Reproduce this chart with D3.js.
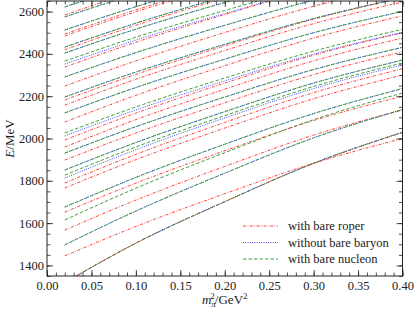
<!DOCTYPE html>
<html>
<head>
<meta charset="utf-8">
<script src="https://cdn.jsdelivr.net/npm/d3@7"></script>
<style>
body { margin: 0; background: #fff; }
svg { display: block; }
</style>
</head>
<body>
<div id="chart"></div>
<script>
// m_pi^2 sample points (GeV^2)
var mpi2 = [0.02, 0.10, 0.20, 0.30, 0.40];

// energy levels (MeV) at each m_pi^2 sample, one row per level
var roperLevels = [
    [1320, 1506, 1702, 1882, 2028],
    [1445, 1584, 1739, 1883, 2000],
    [1567, 1709, 1868, 2016, 2135],
    [1652, 1789, 1942, 2085, 2200],
    [1766, 1900, 2049, 2188, 2300],
    [1790, 1925, 2076, 2217, 2330],
    [1898, 2026, 2169, 2302, 2410],
    [1960, 2089, 2233, 2367, 2475],
    [1993, 2120, 2262, 2394, 2500],
    [2078, 2204, 2344, 2475, 2580],
    [2158, 2280, 2416, 2543, 2645],
    [2182, 2303, 2438, 2564, 2665],
    [2248, 2367, 2501, 2625, 2725],
    [2338, 2455, 2586, 2707, 2805],
    [2420, 2535, 2664, 2783, 2880],
    [2485, 2599, 2726, 2844, 2940],
    [2494, 2608, 2735, 2853, 2949],
    [2584, 2696, 2820, 2936, 3030]
];

var noBareLevels = [
    [1318, 1505, 1701, 1883, 2030],
    [1497, 1657, 1836, 2003, 2137],
    [1676, 1816, 1973, 2118, 2236],
    [1813, 1947, 2097, 2236, 2348],
    [1851, 1981, 2127, 2262, 2371],
    [1931, 2056, 2196, 2326, 2431],
    [2012, 2135, 2272, 2399, 2502],
    [2121, 2241, 2375, 2500, 2601],
    [2196, 2314, 2445, 2567, 2666],
    [2291, 2406, 2535, 2654, 2751],
    [2352, 2465, 2591, 2708, 2802],
    [2404, 2517, 2643, 2760, 2854],
    [2432, 2545, 2671, 2788, 2882],
    [2513, 2623, 2746, 2861, 2953],
    [2575, 2683, 2803, 2915, 3005],
    [2622, 2730, 2850, 2962, 3052]
];

var bareNucleonLevels = [
    [1318, 1505, 1701, 1883, 2030],
    [1497, 1657, 1836, 2003, 2137],
    [1615, 1765, 1933, 2089, 2215],
    [1676, 1816, 1973, 2118, 2236],
    [1827, 1960, 2108, 2246, 2357],
    [1851, 1981, 2127, 2262, 2371],
    [1931, 2056, 2196, 2326, 2431],
    [2026, 2149, 2286, 2413, 2516],
    [2121, 2241, 2375, 2500, 2601],
    [2196, 2314, 2445, 2567, 2666],
    [2291, 2406, 2535, 2654, 2751],
    [2366, 2479, 2605, 2722, 2816],
    [2404, 2517, 2643, 2760, 2854],
    [2432, 2545, 2671, 2788, 2882],
    [2513, 2623, 2746, 2861, 2953],
    [2575, 2683, 2803, 2915, 3005],
    [2622, 2730, 2850, 2962, 3052]
];

var xTicks = [0.00, 0.05, 0.10, 0.15, 0.20, 0.25, 0.30, 0.35, 0.40];
var yTicks = [1400, 1600, 1800, 2000, 2200, 2400, 2600];
var seriesNames = ["with bare roper", "without bare baryon", "with bare nucleon"];

var series = [
    {name: seriesNames[0], levels: roperLevels, color: "#ff2a2a", dash: "3,1.5,0.8,1.5"},
    {name: seriesNames[1], levels: noBareLevels, color: "#1f1fff", dash: "0.9,1.4"},
    {name: seriesNames[2], levels: bareNucleonLevels, color: "#2a962a", dash: "3.5,2"}
];

var SERIF = "'Liberation Serif'";
var TEXT_COLOR = "#222";

var W = 415, H = 310;
var margin = {top: 1, right: 12.5, bottom: 34, left: 47};
var width = W - margin.left - margin.right;
var height = H - margin.top - margin.bottom;

var svg = d3.select("#chart").append("svg")
    .attr("width", W)
    .attr("height", H);

var g = svg.append("g")
    .attr("transform", "translate(" + margin.left + "," + margin.top + ")");

var xScale = d3.scaleLinear().domain([0, 0.40]).range([0, width]);
var yScale = d3.scaleLinear().domain([1350, 2650]).range([height, 0]);

g.append("clipPath").attr("id", "plotClip")
    .append("rect").attr("width", width).attr("height", height);

var line = d3.line()
    .x(function(d, i) { return xScale(mpi2[i]); })
    .y(function(d) { return yScale(d); })
    .curve(d3.curveMonotoneX);

var plot = g.append("g").attr("clip-path", "url(#plotClip)");

series.forEach(function(s) {
    plot.selectAll(null)
        .data(s.levels)
        .enter()
        .append("path")
        .attr("d", line)
        .style("fill", "none")
        .style("stroke", s.color)
        .style("stroke-width", 0.9)
        .style("stroke-dasharray", s.dash);
});

// ticks on all four sides, pointing inward
var xMinor = d3.range(0, 0.4001, 0.01);
var yMinor = d3.range(1350, 2651, 50);

function styleAxis(sel) {
    sel.attr("font-family", null).attr("font-size", null);
    sel.select(".domain").remove();
    sel.selectAll(".tick line").style("stroke", TEXT_COLOR).style("stroke-width", 0.8);
    sel.selectAll(".tick text")
        .style("font-family", SERIF)
        .style("font-size", "12.5px")
        .style("fill", TEXT_COLOR);
}

g.append("g").attr("transform", "translate(0," + height + ")")
    .call(d3.axisBottom(xScale).tickValues(xTicks).tickSize(-6).tickPadding(5).tickFormat(d3.format(".2f")))
    .call(styleAxis);
g.append("g").attr("transform", "translate(0," + height + ")")
    .call(d3.axisBottom(xScale).tickValues(xMinor).tickSize(-3.5).tickFormat(""))
    .call(styleAxis);
g.append("g")
    .call(d3.axisTop(xScale).tickValues(xTicks).tickSize(-6).tickFormat(""))
    .call(styleAxis);
g.append("g")
    .call(d3.axisTop(xScale).tickValues(xMinor).tickSize(-3.5).tickFormat(""))
    .call(styleAxis);

g.append("g")
    .call(d3.axisLeft(yScale).tickValues(yTicks).tickSize(-6).tickPadding(3).tickFormat(d3.format("d")))
    .call(styleAxis);
g.append("g")
    .call(d3.axisLeft(yScale).tickValues(yMinor).tickSize(-3.5).tickFormat(""))
    .call(styleAxis);
g.append("g").attr("transform", "translate(" + width + ",0)")
    .call(d3.axisRight(yScale).tickValues(yTicks).tickSize(-6).tickFormat(""))
    .call(styleAxis);
g.append("g").attr("transform", "translate(" + width + ",0)")
    .call(d3.axisRight(yScale).tickValues(yMinor).tickSize(-3.5).tickFormat(""))
    .call(styleAxis);

g.append("rect")
    .attr("width", width)
    .attr("height", height)
    .style("fill", "none")
    .style("stroke", TEXT_COLOR)
    .style("stroke-width", 1);

// axis labels
var xLab = svg.append("text")
    .attr("x", margin.left + width / 2)
    .attr("y", 304)
    .attr("text-anchor", "middle")
    .style("font-family", SERIF)
    .style("fill", TEXT_COLOR)
    .style("font-size", "13px");
xLab.append("tspan").style("font-style", "italic").text("m");
xLab.append("tspan").attr("dy", 3).style("font-size", "9px").style("font-style", "italic").text("π");
xLab.append("tspan").attr("dx", -5.5).attr("dy", -8.5).style("font-size", "9px").text("2");
xLab.append("tspan").attr("dy", 5.5).text("/GeV");
xLab.append("tspan").attr("dy", -5).style("font-size", "9px").text("2");

var yLab = svg.append("text")
    .attr("transform", "translate(14," + (margin.top + height / 2) + ") rotate(-90)")
    .attr("text-anchor", "middle")
    .style("font-family", SERIF)
    .style("fill", TEXT_COLOR)
    .style("font-size", "13px");
yLab.append("tspan").style("font-style", "italic").text("E");
yLab.append("tspan").text("/MeV");

// legend
var legend = g.append("g").attr("transform", "translate(" + (243 - margin.left) + "," + (226 - margin.top) + ")");
series.forEach(function(s, i) {
    legend.append("line")
        .attr("x1", 0).attr("x2", 35)
        .attr("y1", i * 16.5).attr("y2", i * 16.5)
        .style("stroke", s.color)
        .style("stroke-width", 0.9)
        .style("stroke-dasharray", s.dash);
    legend.append("text")
        .attr("x", 45)
        .attr("y", i * 16.5)
        .attr("dy", "0.35em")
        .style("font-family", SERIF)
        .style("fill", TEXT_COLOR)
        .style("font-size", "12.5px")
        .text(s.name);
});
</script>
</body>
</html>
